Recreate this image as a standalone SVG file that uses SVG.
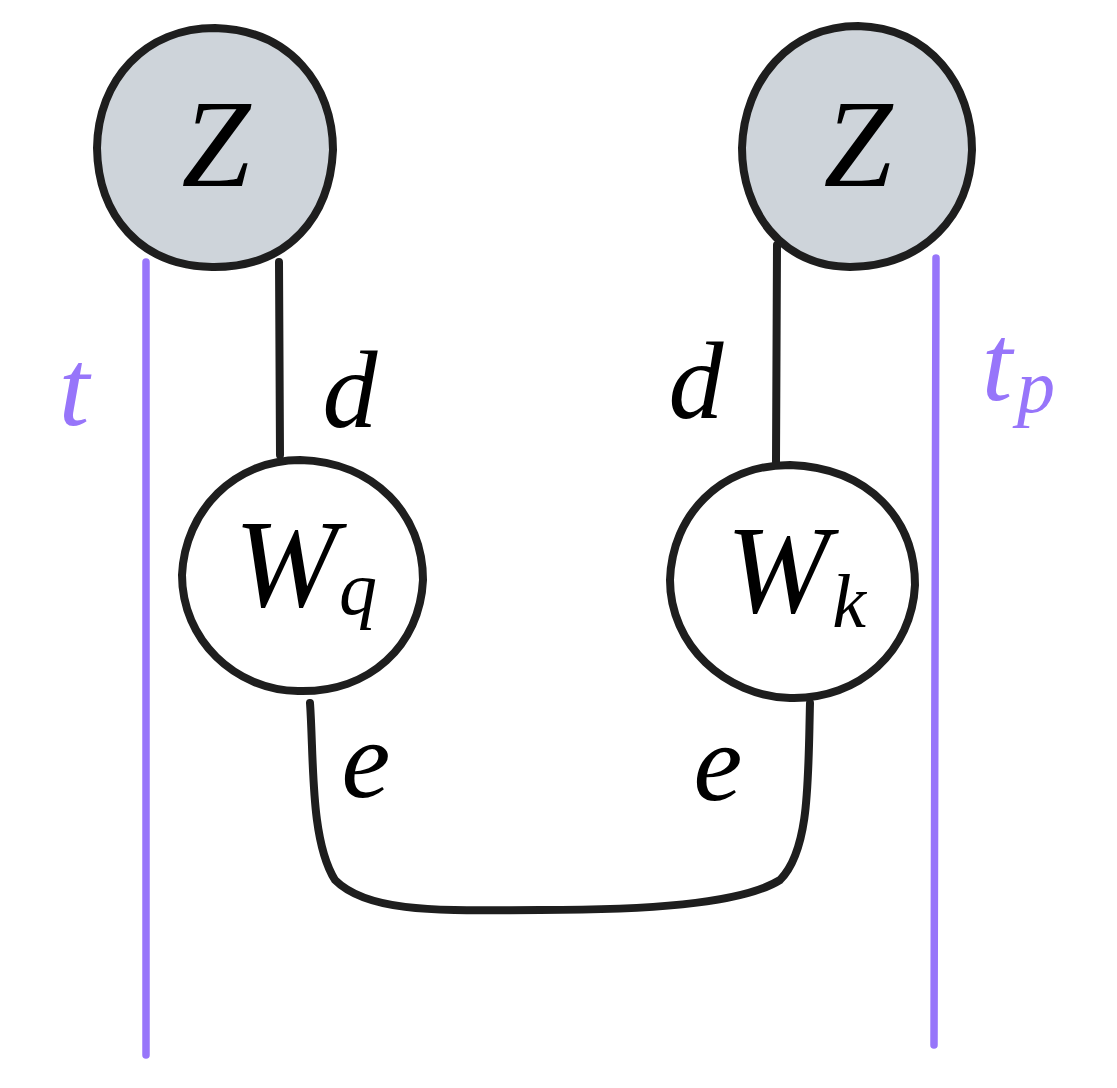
<svg xmlns="http://www.w3.org/2000/svg" width="1117" height="1088" viewBox="0 0 1117 1088">
<style>
.node{stroke:#1e1e1e;stroke-width:8;stroke-linecap:round;stroke-linejoin:round}
.z{fill:#ced4da}
.w{fill:#ffffff}
.edge{fill:none;stroke:#1e1e1e;stroke-width:8;stroke-linecap:round}
.idx{fill:none;stroke:#9775fa;stroke-width:7.5;stroke-linecap:round}
.m{font-family:"Liberation Serif","DejaVu Serif",serif;font-style:italic;fill:#000000}
.p{fill:#9775fa}
</style>
<rect width="1117" height="1088" fill="#ffffff"/>
<g id="edges">
<path class="edge" d="M279 262 L280 455"/>
<path class="edge" d="M777 245 L776 462"/>
<path class="edge" d="M310 703 C314 760 310 840 335 880 C370 915 450 910 540 910 C640 910 740 905 780 880 C810 850 808 780 810 703"/>
</g>
<g id="index-lines">
<path class="idx" d="M146 262 L146 1055"/>
<path class="idx" d="M936 258 L934 1045"/>
</g>
<g id="z-left">
<path class="node z" d="M215 28 C290 30 333 85 333 150 C330 215 290 268 212 267 C140 266 98 215 97 148 C98 80 145 28 215 28 Z"/>
<text class="m" x="216" y="186" font-size="124" text-anchor="middle">Z</text>
</g>
<g id="z-right">
<path class="node z" d="M858 26 C930 28 972 85 972 150 C970 215 925 266 850 267 C780 266 742 210 742 148 C744 80 790 26 858 26 Z"/>
<text class="m" x="858" y="186" font-size="124" text-anchor="middle">Z</text>
</g>
<g id="wq">
<path class="node w" d="M300 460 C375 462 423 515 423 580 C420 645 370 693 298 691 C235 690 182 640 182 575 C185 510 235 460 300 460 Z"/>
<text class="m" x="286" y="606" font-size="124" text-anchor="middle">W</text>
<text class="m" x="358" y="614" font-size="76" text-anchor="middle">q</text>
</g>
<g id="wk">
<path class="node w" d="M790 465 C870 468 915 520 915 585 C912 650 860 700 790 698 C725 696 670 645 670 580 C672 515 720 465 790 465 Z"/>
<text class="m" x="778" y="612" font-size="124" text-anchor="middle">W</text>
<text class="m" x="849" y="627" font-size="76" text-anchor="middle">k</text>
</g>
<g id="labels">
<text class="m" x="350" y="427" font-size="110" text-anchor="middle">d</text>
<text class="m" x="696" y="418" font-size="110" text-anchor="middle">d</text>
<text class="m" x="366" y="797" font-size="110" text-anchor="middle">e</text>
<text class="m" x="718" y="800" font-size="110" text-anchor="middle">e</text>
<text class="m p" x="74" y="425" font-size="110" text-anchor="middle">t</text>
<text class="m p" x="997" y="400" font-size="110" text-anchor="middle">t</text>
<text class="m p" x="1036" y="412" font-size="76" text-anchor="middle">p</text>
</g>
</svg>
